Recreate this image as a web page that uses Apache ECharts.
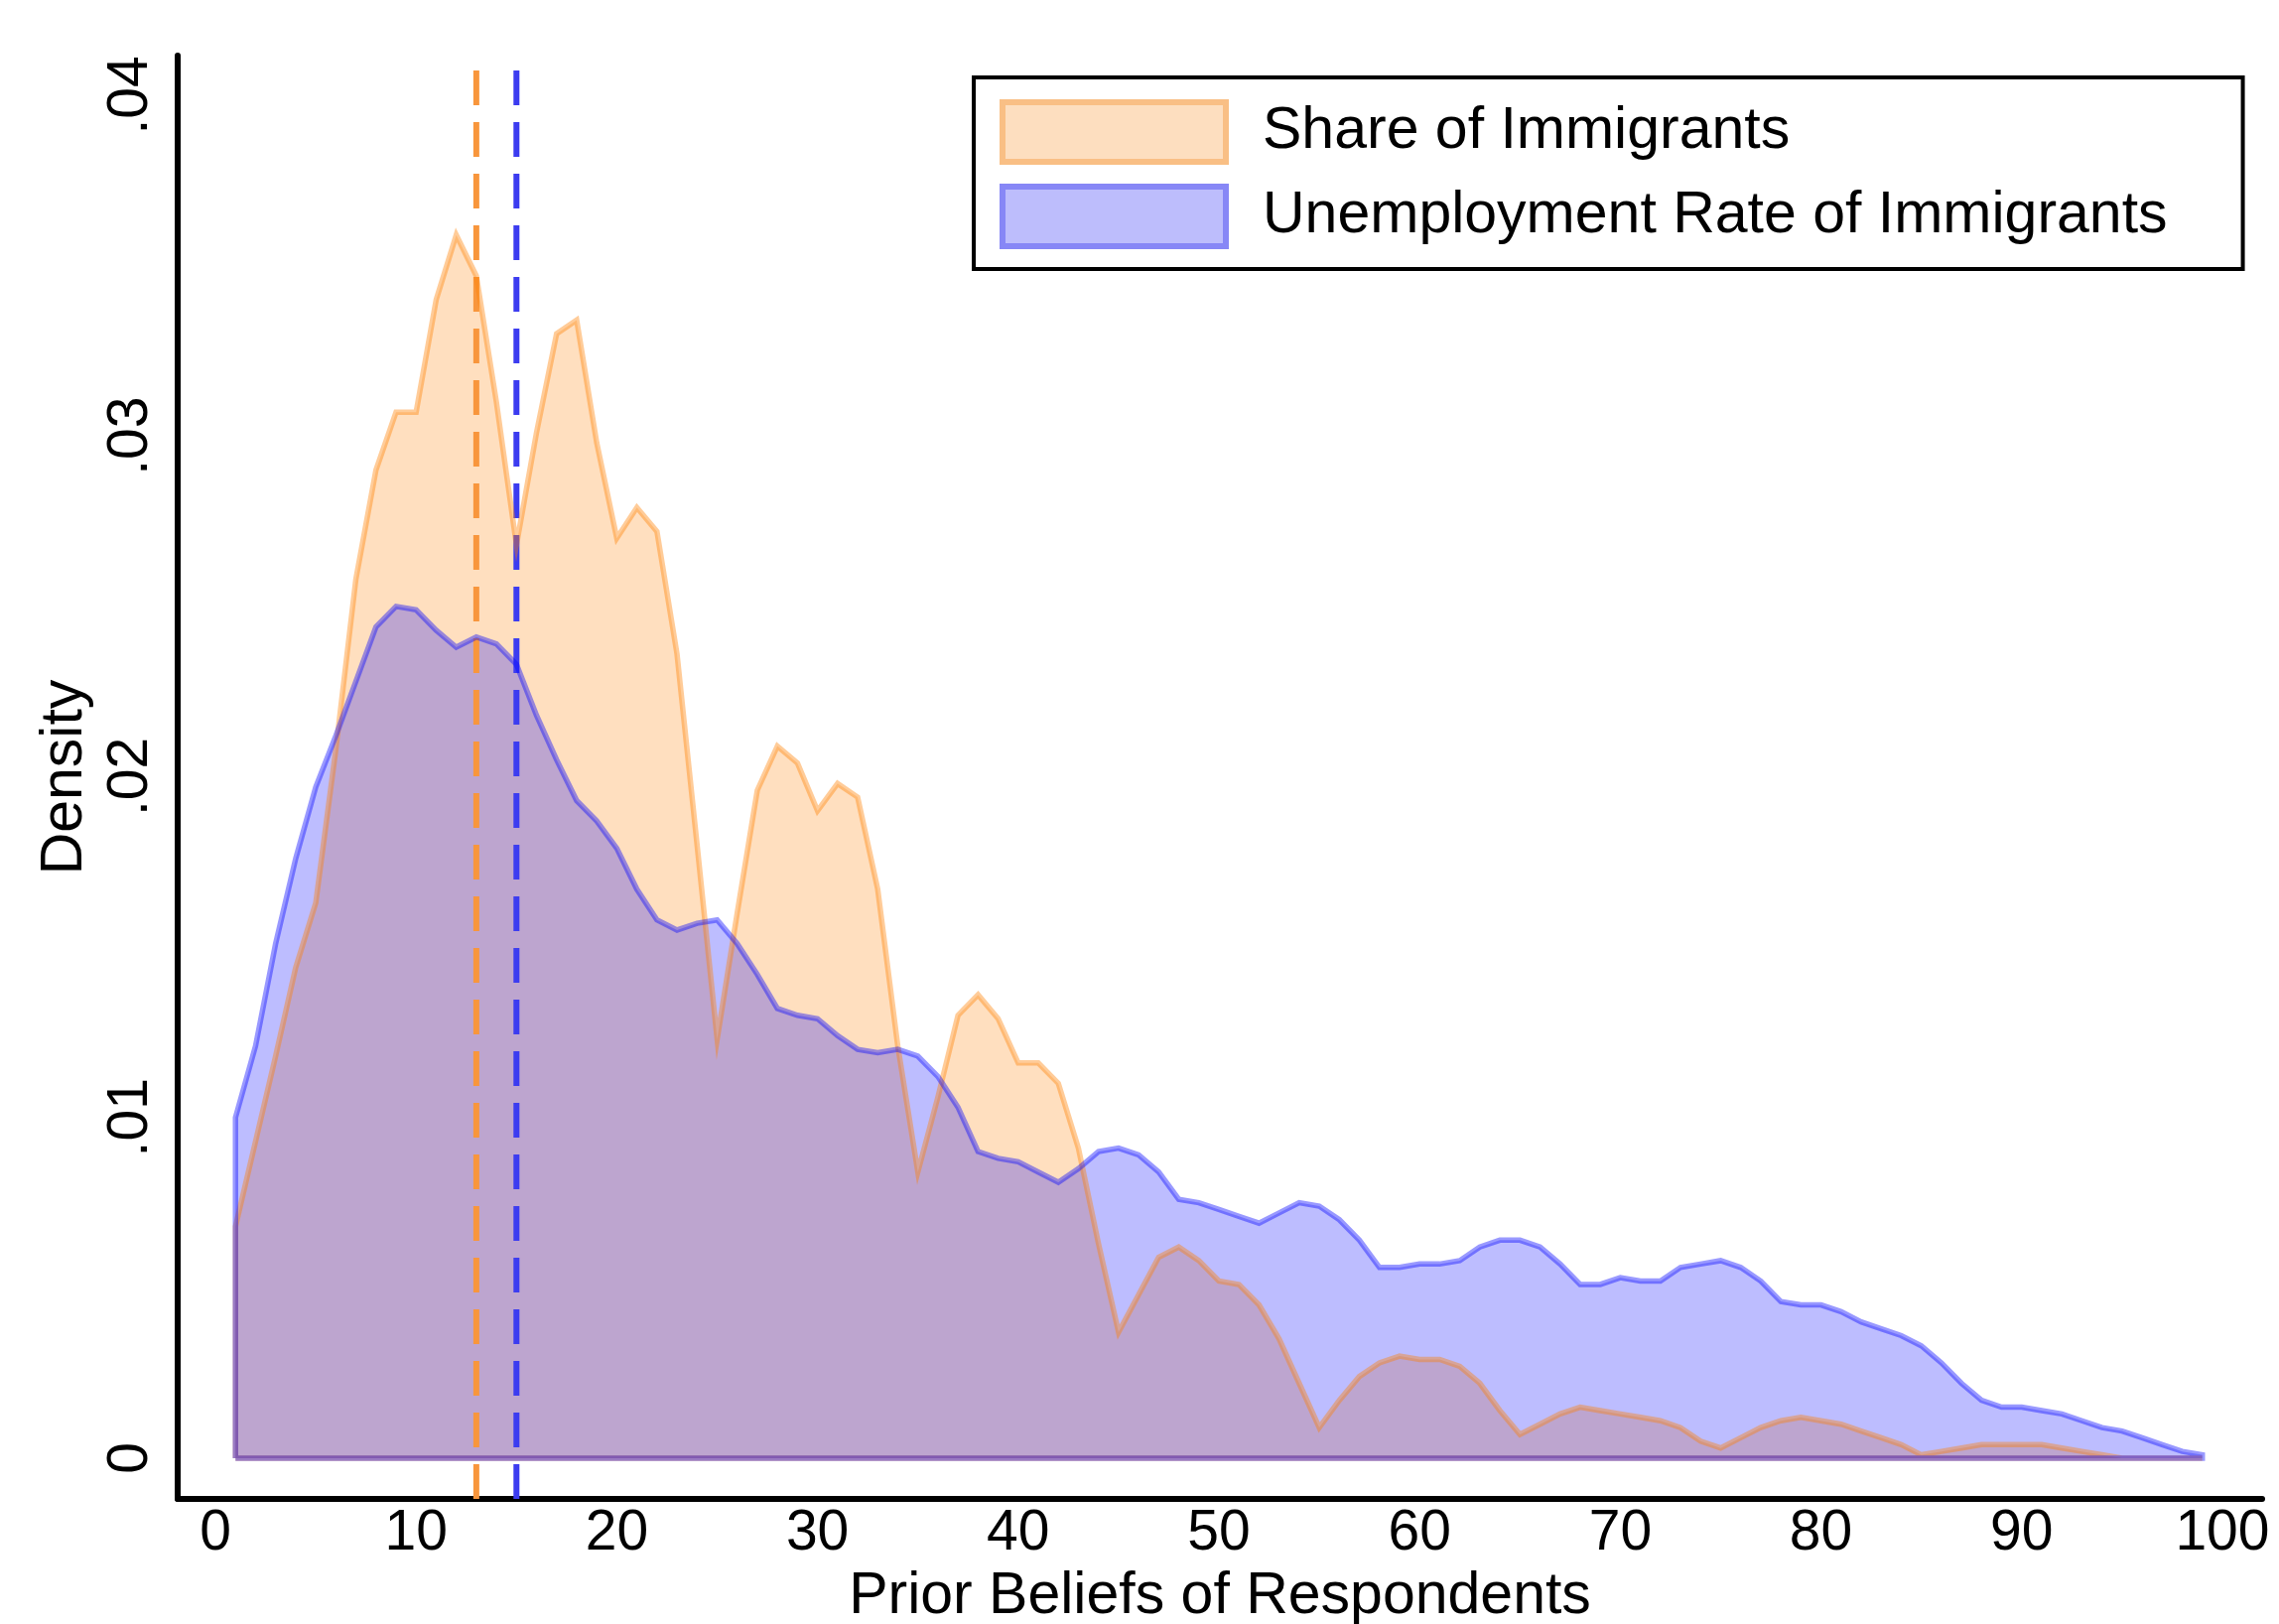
<!DOCTYPE html>
<html>
<head>
<meta charset="utf-8">
<script src="https://cdn.jsdelivr.net/npm/echarts@6/dist/echarts.min.js"></script>
<style>
html,body{margin:0;padding:0;background:#fff;}
#chart{width:2296px;height:1636px;}
</style>
</head>
<body>
<div id="chart"></div>
<script>
// ---- data (kernel density estimates evaluated at integer prior beliefs) ----
const priorBeliefs = [1,2,3,4,5,6,7,8,9,10,11,12,13,14,15,16,17,18,19,20,
  21,22,23,24,25,26,27,28,29,30,31,32,33,34,35,36,37,38,39,40,
  41,42,43,44,45,46,47,48,49,50,51,52,53,54,55,56,57,58,59,60,
  61,62,63,64,65,66,67,68,69,70,71,72,73,74,75,76,77,78,79,80,
  81,82,83,84,85,86,87,88,89,90,91,92,93,94,95,96,97,98,99];

const shareOfImmigrants = [
  0.0068,0.0093,0.0118,0.0144,0.0163,0.0208,0.0258,0.0290,0.0307,0.0307,
  0.0340,0.0359,0.0347,0.0310,0.0268,0.0301,0.0330,0.0334,0.0298,0.0270,
  0.0279,0.0272,0.0236,0.0180,0.0123,0.0160,0.0196,0.0209,0.0204,0.0190,
  0.0198,0.0194,0.0167,0.0121,0.0084,0.0106,0.0130,0.0136,0.0129,0.0116,
  0.0116,0.0110,0.0091,0.0063,0.0037,0.0048,0.0059,0.0062,0.0058,0.0052,
  0.0051,0.0045,0.0035,0.0022,0.0009,0.0017,0.0024,0.0028,0.0030,0.0029,
  0.0029,0.0027,0.0022,0.0014,0.0007,0.0010,0.0013,0.0015,0.0014,0.0013,
  0.0012,0.0011,0.0009,0.0005,0.0003,0.0006,0.0009,0.0011,0.0012,0.0011,
  0.0010,0.0008,0.0006,0.0004,0.0001,0.0002,0.0003,0.0004,0.0004,0.0004,
  0.0004,0.0003,0.0002,0.0001,0,0,0,0,0];

const unemploymentRateOfImmigrants = [
  0.0100,0.0121,0.0151,0.0176,0.0197,0.0212,0.0228,0.0244,0.0250,0.0249,
  0.0243,0.0238,0.0241,0.0239,0.0233,0.0218,0.0205,0.0193,0.0187,0.0179,
  0.0167,0.0158,0.0155,0.0157,0.0158,0.0151,0.0142,0.0132,0.0130,0.0129,
  0.0124,0.0120,0.0119,0.0120,0.0118,0.0112,0.0103,0.0090,0.0088,0.0087,
  0.0084,0.0081,0.0085,0.0090,0.0091,0.0089,0.0084,0.0076,0.0075,0.0073,
  0.0071,0.0069,0.0072,0.0075,0.0074,0.0070,0.0064,0.0056,0.0056,0.0057,
  0.0057,0.0058,0.0062,0.0064,0.0064,0.0062,0.0057,0.0051,0.0051,0.0053,
  0.0052,0.0052,0.0056,0.0057,0.0058,0.0056,0.0052,0.0046,0.0045,0.0045,
  0.0043,0.0040,0.0038,0.0036,0.0033,0.0028,0.0022,0.0017,0.0015,0.0015,
  0.0014,0.0013,0.0011,0.0009,0.0008,0.0006,0.0004,0.0002,0.0001];

// vertical reference lines (x positions)
const shareLineX = 13;
const unemploymentLineX = 15;

const seriesNames = ['Share of Immigrants', 'Unemployment Rate of Immigrants'];

const xTickValues = [0,10,20,30,40,50,60,70,80,90,100];
const yTickValues = [0, 0.01, 0.02, 0.03, 0.04];
const yTickLabels = ['0', '.01', '.02', '.03', '.04'];

// ---- layout / style ----
const X_MIN = -1.88, X_MAX = 101.98;
const Y_MIN = -0.001194, Y_MAX = 0.041165;
const FONT = "'Liberation Sans', Arial, Helvetica, sans-serif";

function closedArea(xs, ys) {
  const pts = [[xs[0], 0]];
  for (let i = 0; i < xs.length; i++) pts.push([xs[i], ys[i]]);
  pts.push([xs[xs.length - 1], 0]);
  pts.push([xs[0], 0]);
  return pts;
}

const chart = echarts.init(document.getElementById('chart'), null, {renderer: 'canvas'});

const option = {
  animation: false,
  backgroundColor: '#ffffff',
  grid: {left: 179, right: 17, top: 56, bottom: 126, containLabel: false, outerBoundsMode: 'none'},
  xAxis: {
    type: 'value', min: X_MIN, max: X_MAX,
    axisLine: {show: true, onZero: false, lineStyle: {color: '#000', width: 6}},
    axisTick: {show: false},
    splitLine: {show: false},
    axisLabel: {customValues: xTickValues, fontSize: 57, color: '#000', fontFamily: FONT, margin: 7},
    name: 'Prior Beliefs of Respondents', nameLocation: 'middle', nameGap: 68,
    nameTextStyle: {fontSize: 59, color: '#000', fontFamily: FONT}
  },
  yAxis: {
    type: 'value', min: Y_MIN, max: Y_MAX,
    axisLine: {show: true, onZero: false, lineStyle: {color: '#000', width: 6}},
    axisTick: {show: false},
    splitLine: {show: false},
    axisLabel: {
      customValues: yTickValues, rotate: 90, fontSize: 57, color: '#000', fontFamily: FONT, margin: 18,
      formatter: function (v) {
        const i = yTickValues.indexOf(v);
        return i >= 0 ? yTickLabels[i] : '';
      }
    },
    name: 'Density', nameLocation: 'middle', nameGap: 84, nameRotate: 90,
    nameTextStyle: {fontSize: 59, color: '#000', fontFamily: FONT}
  },
  legend: {
    orient: 'vertical', left: 981, top: 78,
    padding: [22, 76, 20, 26],
    itemWidth: 225, itemHeight: 60, itemGap: 19,
    borderColor: '#000', borderWidth: 4, backgroundColor: '#fff',
    selectedMode: false,
    textStyle: {fontSize: 59, color: '#000', fontFamily: FONT, padding: [0, 0, 0, 32], lineHeight: 60},
    data: [
      {name: seriesNames[0], icon: 'rect', itemStyle: {color: '#FDDEBF', borderColor: '#F9BF85', borderWidth: 6}},
      {name: seriesNames[1], icon: 'rect', itemStyle: {color: '#BDBDFC', borderColor: '#8787F6', borderWidth: 6}}
    ]
  },
  series: [
    {
      name: 'xline-share', type: 'line', symbol: 'none', silent: true,
      data: [[shareLineX, Y_MIN], [shareLineX, Y_MAX]],
      lineStyle: {color: '#F8963C', width: 6, type: [35, 17]}
    },
    {
      name: 'xline-unemp', type: 'line', symbol: 'none', silent: true,
      data: [[unemploymentLineX, Y_MIN], [unemploymentLineX, Y_MAX]],
      lineStyle: {color: '#3C3CF0', width: 6, type: [35, 17]}
    },
    {
      name: seriesNames[0], type: 'line', symbol: 'none', showSymbol: false,
      data: closedArea(priorBeliefs, shareOfImmigrants),
      lineStyle: {color: 'rgba(255,127,0,0.40)', width: 5.5, join: 'miter', opacity: 1},
      itemStyle: {color: 'rgba(255,127,0,0.40)'},
      areaStyle: {color: 'rgba(255,127,0,0.25)', origin: 'auto', opacity: 1}
    },
    {
      name: seriesNames[1], type: 'line', symbol: 'none', showSymbol: false,
      data: closedArea(priorBeliefs, unemploymentRateOfImmigrants),
      lineStyle: {color: 'rgba(0,0,255,0.40)', width: 5.5, join: 'miter', opacity: 1},
      itemStyle: {color: 'rgba(0,0,255,0.40)'},
      areaStyle: {color: 'rgba(0,0,255,0.26)', origin: 'auto', opacity: 1}
    }
  ]
};

chart.setOption(option);
</script>
</body>
</html>
